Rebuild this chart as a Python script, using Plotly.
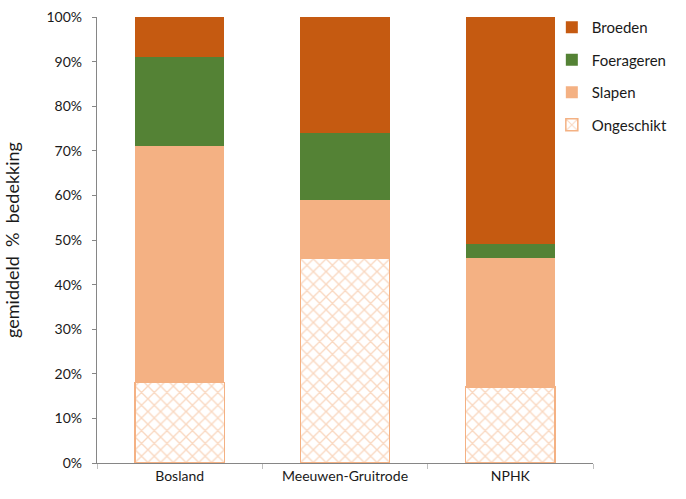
import plotly.graph_objects as go

# Gebieden en gemiddelde bedekking per functie (procent)
gebieden = ["Bosland", "Meeuwen-Gruitrode", "NPHK"]
ongeschikt = [18, 46, 17]
slapen = [53, 13, 29]
foerageren = [20, 15, 3]
broeden = [9, 26, 51]

y_ticks = list(range(0, 101, 10))
# trailing non-breaking spaces leave a little room between label and tick
y_tick_labels = [f"{v}%\u00a0\u00a0" for v in y_ticks]

FONT = "Lato, 'Open Sans', sans-serif"

fig = go.Figure()

fig.add_trace(go.Bar(
    name="Ongeschikt", x=gebieden, y=ongeschikt, legendgroup="a", legendrank=4,
    marker=dict(color="white",
                line=dict(color="#F4B183", width=1.5),
                pattern=dict(shape="x", fgcolor="#F4B183", bgcolor="white",
                             size=9, solidity=0.28)),
))
fig.add_trace(go.Bar(
    name="Slapen", x=gebieden, y=slapen, legendgroup="b", legendrank=3,
    marker=dict(color="#F4B183", line=dict(width=0)),
))
fig.add_trace(go.Bar(
    name="Foerageren", x=gebieden, y=foerageren, legendgroup="c", legendrank=2,
    marker=dict(color="#548235", line=dict(width=0)),
))
fig.add_trace(go.Bar(
    name="Broeden", x=gebieden, y=broeden, legendgroup="d", legendrank=1,
    marker=dict(color="#C55A11", line=dict(width=0)),
))

fig.update_layout(
    width=686, height=499,
    margin=dict(l=97, r=93, t=16, b=36),
    barmode="stack",
    bargap=0.46,
    plot_bgcolor="white",
    paper_bgcolor="white",
    font=dict(family=FONT, size=14, color="#1a1a1a"),
    legend=dict(
        traceorder="grouped",
        tracegroupgap=10,
        x=0.917, xanchor="left",
        y=1.011, yanchor="top",
        font=dict(size=15, color="#1a1a1a"),
        itemwidth=30,
        bgcolor="rgba(0,0,0,0)",
    ),
    xaxis=dict(
        type="category",
        automargin=False,
        tickson="boundaries",
        ticks="outside", ticklen=5, tickcolor="#BFBFBF",
        showline=True, linecolor="#868686", linewidth=1,
        showgrid=False,
        tickfont=dict(size=14, color="#1a1a1a"),
    ),
    yaxis=dict(
        range=[0, 100],
        automargin=False,
        tickmode="array",
        tickvals=y_ticks,
        ticktext=y_tick_labels,
        ticks="outside", ticklen=4, tickcolor="#868686",
        showline=True, linecolor="#868686", linewidth=1,
        showgrid=False, zeroline=False,
        tickfont=dict(size=14, color="#1a1a1a"),
        title=dict(text="gemiddeld  %  bedekking",
                   font=dict(size=18, color="#1a1a1a"), standoff=22),
    ),
)

fig.write_html("out.html")
